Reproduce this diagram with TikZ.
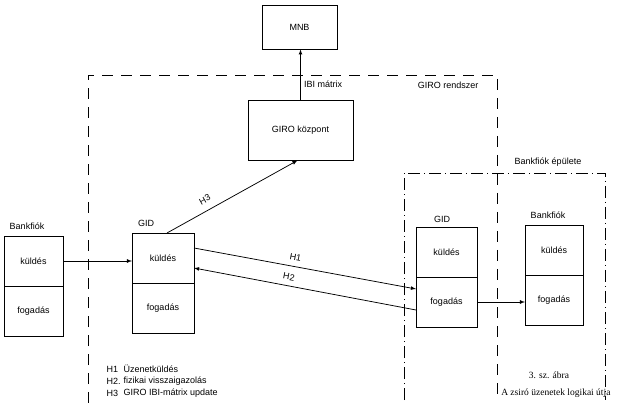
\documentclass[tikz,border=0pt]{standalone}
\usepackage{fontspec}
\setmainfont{Liberation Sans}
\newfontfamily\captionfont{Liberation Serif}

\begin{document}
\begin{tikzpicture}[x=1pt, y=-1pt,
    >=latex,   %Pfeilspitzen
    font=\fontsize{9}{10}\selectfont,
    cell/.style={draw, line width=0.9pt, inner sep=0pt, outer sep=0pt, minimum width=#1, minimum height=50pt},
    box/.style={draw, line width=0.9pt, inner sep=0pt},
    conn/.style={->, line width=0.75pt},
    giroline/.style={line width=0.9pt, dash pattern=on 11pt off 8pt},
    bankline/.style={line width=0.9pt, dash pattern=on 12pt off 4pt on 1pt off 4pt}]
    \useasboundingbox (0,0) rectangle (618,403);
    %Rendszerhatarok
    \draw[giroline] (88,403) -- (88,75) -- (497,75) -- (497,400);
    \draw[bankline] (404,400) -- (404,173) -- (605,173) -- (605,400);
    \node[anchor=east] (girorsz) at (482,85) {GIRO rendszer};
    \node (epulet) at (548,162) {Bankfiók épülete};
    %Kozponti dobozok
    \node[box, minimum width=75pt, minimum height=44pt] (mnb) at (299.5,27) {MNB};
    \node[box, minimum width=105pt, minimum height=60pt] (giro) at (300.5,130) {GIRO központ};
    %Bankfiok es GID dobozok
    \node[cell=59pt] (bfk) at (33.5,261) {küldés};
    \node[cell=59pt, anchor=north] (bff) at (bfk.south) {fogadás};
    \node[cell=62pt] (gk) at (163,258) {küldés};
    \node[cell=62pt, anchor=north] (gf) at (gk.south) {fogadás};
    \node[cell=61pt] (gk2) at (446.5,252) {küldés};
    \node[cell=61pt, anchor=north] (gf2) at (gk2.south) {fogadás};
    \node[cell=58pt] (bk2) at (554,250) {küldés};
    \node[cell=58pt, anchor=north] (bf2) at (bk2.south) {fogadás};
    \node (bflab) at (27,226) {Bankfiók};
    \node (gidlab) at (146,223) {GID};
    \node (gidlab2) at (442,219) {GID};
    \node (bflab2) at (548,215) {Bankfiók};
    %Uzenetek utja
    \draw[conn] (bfk.east) -- (bfk.east -| gk.west);
    \draw[conn] ([yshift=10pt]gk.east) -- node[above=2pt, sloped, pos=0.45] {H1} ([yshift=13pt]gf2.west);
    \draw[<-, line width=0.75pt] ([yshift=-10pt]gk.east) -- node[above=2pt, sloped, pos=0.42] {H2} ([yshift=-8pt]gf2.west);
    \draw[conn] ([xshift=4pt]gk.north) -- node[above=4pt, sloped, pos=0.33] {H3} ([xshift=-3pt]giro.south);
    \draw[conn] (giro.north) -- node[right, pos=0.3] {IBI mátrix} (giro.north |- mnb.south);
    \draw[conn] (gf2.east) -- (gf2.east -| bf2.west);
    %Jelmagyarazat
    \foreach \h/\t/\y [count=\i] in {H1/Üzenetküldés/369, H2./fizikai visszaigazolás/381, H3/GIRO IBI-mátrix update/393}
      \node[anchor=west] (h\i) at (103,\y) {\h} node[anchor=west] (t\i) at (120,\y) {\t};
    %Abra cime
    \node[font=\captionfont\fontsize{9.5}{11}\selectfont] (abra) at (549,375) {3. sz. ábra};
    \node[font=\captionfont\fontsize{9.5}{11}\selectfont, anchor=east] (cim) at (614,393) {A zsiró üzenetek logikai útja};
\end{tikzpicture}
\end{document}
